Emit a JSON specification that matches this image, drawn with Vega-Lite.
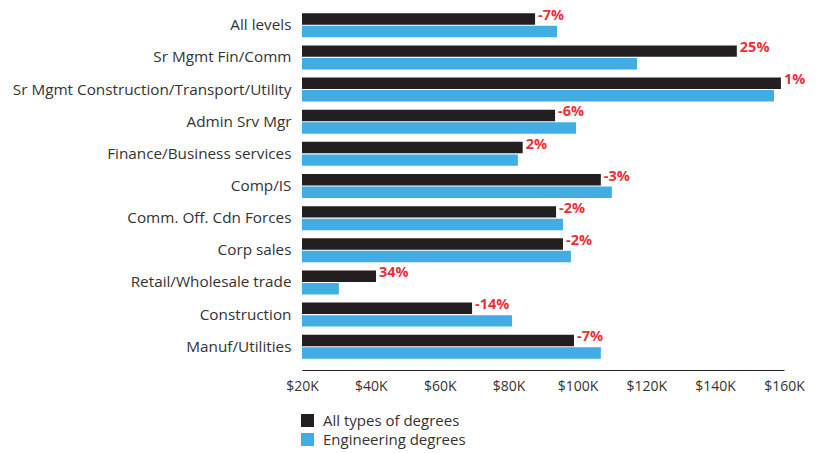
{
  "$schema": "https://vega.github.io/schema/vega-lite/v6.json",
  "autosize": {"type": "none"},
  "padding": {"left": 302, "top": 2, "right": 49, "bottom": 83},
  "width": 482,
  "height": 368,
  "background": "white",
  "config": {"view": {"stroke": null}, "font": "Open Sans"},
  "data": {
    "values": [
      {"role": "All levels", "series": "All types of degrees", "salary": 87700, "label": "-7%"},
      {"role": "All levels", "series": "Engineering degrees", "salary": 94100, "label": ""},
      {"role": "Sr Mgmt Fin/Comm", "series": "All types of degrees", "salary": 146300, "label": "25%"},
      {"role": "Sr Mgmt Fin/Comm", "series": "Engineering degrees", "salary": 117300, "label": ""},
      {"role": "Sr Mgmt Construction/Transport/Utility", "series": "All types of degrees", "salary": 159100, "label": "1%"},
      {"role": "Sr Mgmt Construction/Transport/Utility", "series": "Engineering degrees", "salary": 157100, "label": ""},
      {"role": "Admin Srv Mgr", "series": "All types of degrees", "salary": 93500, "label": "-6%"},
      {"role": "Admin Srv Mgr", "series": "Engineering degrees", "salary": 99600, "label": ""},
      {"role": "Finance/Business services", "series": "All types of degrees", "salary": 84100, "label": "2%"},
      {"role": "Finance/Business services", "series": "Engineering degrees", "salary": 82700, "label": ""},
      {"role": "Comp/IS", "series": "All types of degrees", "salary": 106800, "label": "-3%"},
      {"role": "Comp/IS", "series": "Engineering degrees", "salary": 110000, "label": ""},
      {"role": "Comm. Off. Cdn Forces", "series": "All types of degrees", "salary": 93800, "label": "-2%"},
      {"role": "Comm. Off. Cdn Forces", "series": "Engineering degrees", "salary": 95800, "label": ""},
      {"role": "Corp sales", "series": "All types of degrees", "salary": 95800, "label": "-2%"},
      {"role": "Corp sales", "series": "Engineering degrees", "salary": 98100, "label": ""},
      {"role": "Retail/Wholesale trade", "series": "All types of degrees", "salary": 41500, "label": "34%"},
      {"role": "Retail/Wholesale trade", "series": "Engineering degrees", "salary": 30700, "label": ""},
      {"role": "Construction", "series": "All types of degrees", "salary": 69400, "label": "-14%"},
      {"role": "Construction", "series": "Engineering degrees", "salary": 81000, "label": ""},
      {"role": "Manuf/Utilities", "series": "All types of degrees", "salary": 99000, "label": "-7%"},
      {"role": "Manuf/Utilities", "series": "Engineering degrees", "salary": 106800, "label": ""}
    ]
  },
  "encoding": {
    "y": {
      "field": "role", "type": "nominal", "sort": null, "title": null,
      "scale": {"paddingInner": 0.253, "paddingOuter": 0.35},
      "axis": {"domain": false, "ticks": false, "labelPadding": 11, "labelFontSize": 15.3, "labelColor": "#333333", "labelFont": "Open Sans", "labelLimit": 400}
    },
    "yOffset": {
      "field": "series", "type": "nominal",
      "scale": {"domain": ["All types of degrees", "Engineering degrees"], "paddingInner": 0.09}
    },
    "x": {
      "field": "salary", "type": "quantitative", "title": null,
      "scale": {"domain": [20000, 160000], "zero": false, "nice": false},
      "axis": {"values": [20000, 40000, 60000, 80000, 100000, 120000, 140000, 160000], "labelExpr": "'$' + datum.value/1000 + 'K'", "grid": false, "ticks": false, "domainColor": "#231f20", "domainWidth": 1, "labelPadding": 9, "labelFontSize": 14, "labelColor": "#333333", "labelFont": "Open Sans", "labelFlush": false}
    }
  },
  "layer": [
    {
      "mark": {"type": "bar"},
      "encoding": {
        "x2": {"datum": 20000},
        "color": {
          "field": "series", "type": "nominal",
          "scale": {"domain": ["All types of degrees", "Engineering degrees"], "range": ["#231f20", "#41ade2"]},
          "legend": {"title": null, "orient": "none", "legendX": -2, "legendY": 411, "direction": "vertical", "symbolType": "square", "symbolSize": 169, "symbolStrokeWidth": 0, "labelFontSize": 15, "labelColor": "#333333", "labelFont": "Open Sans", "rowPadding": 3, "labelOffset": 8}
        }
      }
    },
    {
      "transform": [{"filter": "datum.label != ''"}],
      "mark": {"type": "text", "align": "left", "baseline": "middle", "dx": 3, "dy": -3, "fontWeight": "bold", "fontSize": 14.5, "color": "#e8313a", "font": "Open Sans"},
      "encoding": {"text": {"field": "label"}}
    }
  ]
}
